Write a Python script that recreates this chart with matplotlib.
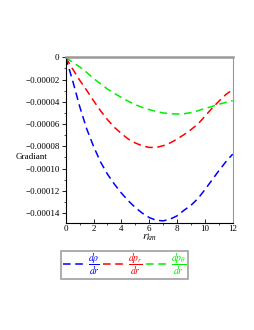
import numpy as np
import matplotlib
matplotlib.use('Agg')
import matplotlib.pyplot as plt
from matplotlib.ticker import FixedLocator, MultipleLocator

# values (gradient in units of 1e-5)
r = [0, 0.5, 1, 1.5, 2, 2.5, 3, 3.5, 4, 4.5, 5, 5.5, 6, 6.5, 7, 7.5, 8, 8.5, 9, 9.5, 10, 10.5, 11, 11.5, 12]
drho = [0, -2.1, -4.4, -6.4, -8.0, -9.4, -10.5, -11.4, -12.2, -12.9, -13.5, -14.0, -14.4, -14.65, -14.7,
        -14.55, -14.25, -13.75, -13.3, -12.7, -11.9, -11.05, -10.2, -9.4, -8.7]
dpr = [0, -1.05, -2.05, -2.95, -3.9, -4.8, -5.6, -6.3, -6.85, -7.35, -7.7, -7.95, -8.1, -8.1, -7.95,
       -7.7, -7.35, -6.95, -6.5, -6.0, -5.3, -4.6, -3.95, -3.35, -2.9]
dpt = [0, -0.45, -0.85, -1.35, -1.9, -2.38, -2.85, -3.25, -3.6, -3.95, -4.25, -4.5, -4.7, -4.87, -5.0,
       -5.07, -5.1, -5.07, -4.97, -4.8, -4.6, -4.42, -4.22, -4.05, -3.9]
yticks = [0, -2e-5, -4e-5, -6e-5, -8e-5, -10e-5, -12e-5, -14e-5]
ytick_labels = ['0', '\u22120.00002', '\u22120.00004', '\u22120.00006', '\u22120.00008',
                '\u22120.00010', '\u22120.00012', '\u22120.00014']
labels = [r'$\dfrac{d\rho}{dr}$', r'$\dfrac{dp_r}{dr}$', r'$\dfrac{dp_\theta}{dr}$']
colors = ['#0000ff', '#ff0000', '#00ee00']

plt.rcParams['font.family'] = ['Liberation Serif', 'DejaVu Serif']
plt.rcParams['mathtext.fontset'] = 'stix'

fig = plt.figure(figsize=(2.55, 3.3), dpi=100)
ax = fig.add_axes([0.2576, 0.325, 0.655, 0.503])

r = np.array(r)
for ys, c, lab in zip([drho, dpr, dpt], colors, labels):
    ax.plot(r, np.array(ys) * 1e-5, color=c, lw=1.1, dashes=(5, 3), label=lab)

ax.set_xlim(0, 12)
ax.set_ylim(-14.87e-5, 0.05e-5)
ax.set_xticks([0, 2, 4, 6, 8, 10, 12])
ax.xaxis.set_minor_locator(MultipleLocator(1))
ax.yaxis.set_major_locator(FixedLocator(yticks))
ax.set_yticklabels(ytick_labels)
ax.yaxis.set_minor_locator(MultipleLocator(1e-5))
ax.tick_params(labelsize=6.5, length=3, width=0.6, pad=1.5)
ax.tick_params(which='minor', length=1.5, width=0.5)
ax.tick_params(axis='x', direction='in')

for s in ['left', 'bottom']:
    ax.spines[s].set_color('black')
    ax.spines[s].set_linewidth(0.8)
ax.spines['top'].set_color('#999999')
ax.spines['top'].set_linewidth(1.8)
ax.spines['right'].set_color('#999999')
ax.spines['right'].set_linewidth(0.8)

ax.set_xlabel(r'$r_{km}$', fontsize=8, labelpad=0)
fig.text(0.063, 0.524, 'Gradiant', fontsize=6.5, va='center', ha='left')

leg = fig.legend(loc='upper left', bbox_to_anchor=(0.222, 0.255), ncol=3, fontsize=7,
                 handlelength=2.3, handletextpad=0.3, columnspacing=0.3,
                 borderpad=0.15, fancybox=False, frameon=True)
leg.get_frame().set_edgecolor('#888888')
leg.get_frame().set_linewidth(1.2)
for t, c in zip(leg.get_texts(), colors):
    t.set_color(c)

fig.savefig('out.png', dpi=100)
